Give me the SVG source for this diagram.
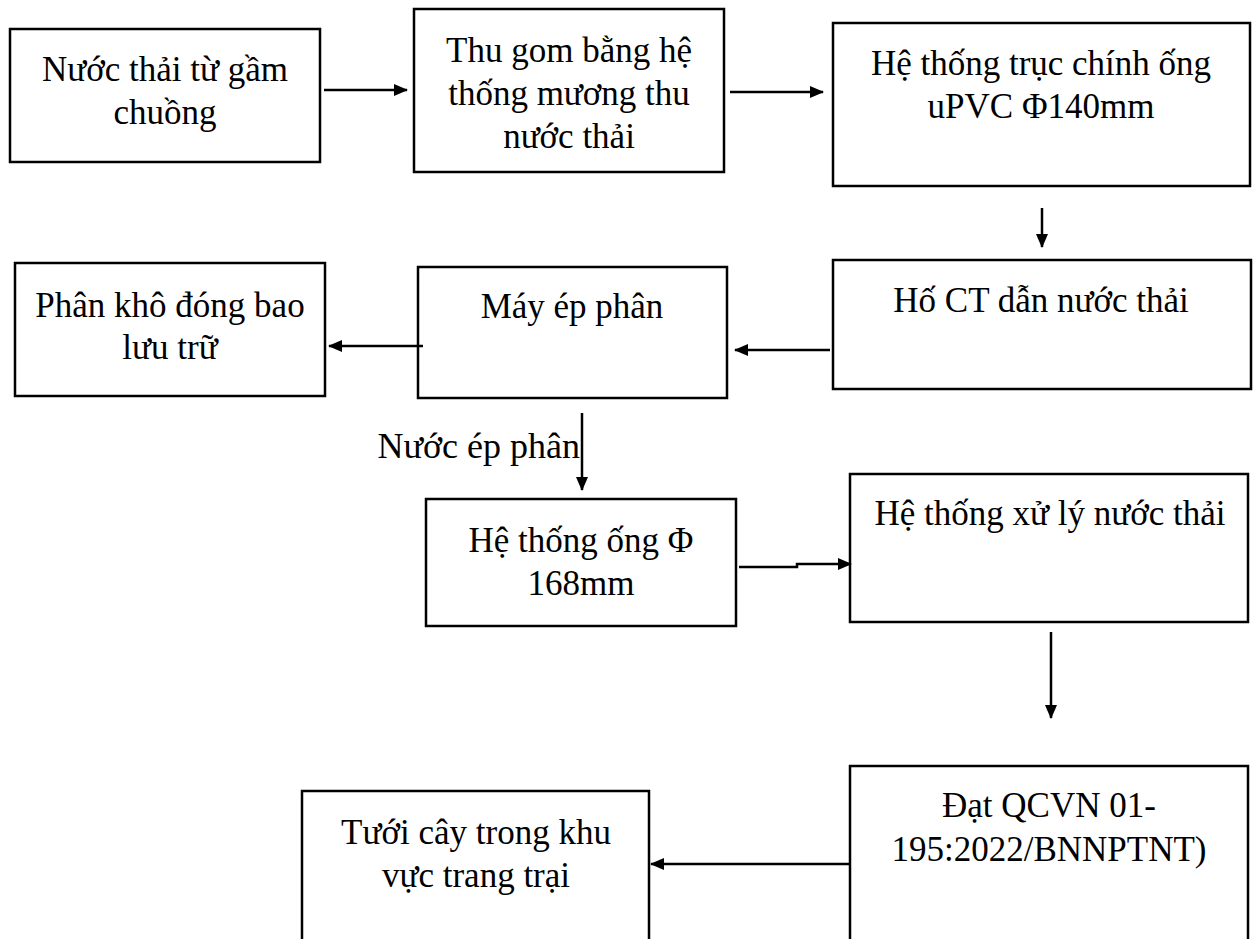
<svg xmlns="http://www.w3.org/2000/svg" width="1254" height="939" viewBox="0 0 1254 939">
<style>
.box{fill:#fff;stroke:#000;stroke-width:2.5}
.t{font-family:"Liberation Serif","Times New Roman",serif;font-size:35px;fill:#000;text-anchor:middle}
.c{fill:none;stroke:#000;stroke-width:2.5}
</style>
<defs>
<marker id="ah" markerWidth="14" markerHeight="12" refX="13" refY="6" orient="auto" markerUnits="userSpaceOnUse">
<path d="M0,0 L14,6 L0,12 Z" fill="#000"/>
</marker>
</defs>
<rect width="1254" height="939" fill="#fff"/>
<g id="n1"><rect class="box" x="10" y="29" width="310" height="133"/>
<text class="t" x="165" y="81">Nước thải từ gầm</text><text class="t" x="165" y="124">chuồng</text></g>
<g id="n2"><rect class="box" x="414" y="9" width="310" height="163"/>
<text class="t" x="569" y="62">Thu gom bằng hệ</text><text class="t" x="569" y="105">thống mương thu</text><text class="t" x="569" y="148">nước thải</text></g>
<g id="n3"><rect class="box" x="833" y="23" width="417" height="163"/>
<text class="t" x="1041" y="75">Hệ thống trục chính ống</text><text class="t" x="1041" y="118">uPVC Φ140mm</text></g>
<g id="n4"><rect class="box" x="833" y="260" width="418" height="129"/>
<text class="t" x="1041" y="312">Hố CT dẫn nước thải</text></g>
<g id="n5"><rect class="box" x="418" y="267" width="309" height="131"/>
<text class="t" x="572" y="318">Máy ép phân</text></g>
<g id="n6"><rect class="box" x="15" y="263" width="310" height="133"/>
<text class="t" x="170" y="317">Phân khô đóng bao</text><text class="t" x="170" y="359">lưu trữ</text></g>
<g id="n7"><rect class="box" x="426" y="499" width="310" height="127"/>
<text class="t" x="581" y="552">Hệ thống ống Φ</text><text class="t" x="581" y="595">168mm</text></g>
<g id="n8"><rect class="box" x="850" y="474" width="398" height="148"/>
<text class="t" x="1050" y="525">Hệ thống xử lý nước thải</text></g>
<g id="n9"><rect class="box" x="850" y="766" width="398" height="200"/>
<text class="t" x="1049" y="817">Đạt QCVN 01-</text><text class="t" x="1049" y="861">195:2022/BNNPTNT)</text></g>
<g id="n10"><rect class="box" x="302" y="791" width="347" height="180"/>
<text class="t" x="476" y="844">Tưới cây trong khu</text><text class="t" x="476" y="887">vực trang trại</text></g>
<g id="label"><text class="t" x="580" y="458" style="text-anchor:end;font-size:36px">Nước ép phân</text></g>
<g id="connectors">
<path class="c" d="M324,90 H407" marker-end="url(#ah)"/>
<path class="c" d="M730,92 H823" marker-end="url(#ah)"/>
<path class="c" d="M1042,208 V247" marker-end="url(#ah)"/>
<path class="c" d="M830,350 H735" marker-end="url(#ah)"/>
<path class="c" d="M423,346 H329" marker-end="url(#ah)"/>
<path class="c" d="M582,413 V490" marker-end="url(#ah)"/>
<path class="c" d="M739,567 H797 V564 H851" marker-end="url(#ah)"/>
<path class="c" d="M1051,632 V718" marker-end="url(#ah)"/>
<path class="c" d="M850,864 H651" marker-end="url(#ah)"/>
</g>
</svg>
